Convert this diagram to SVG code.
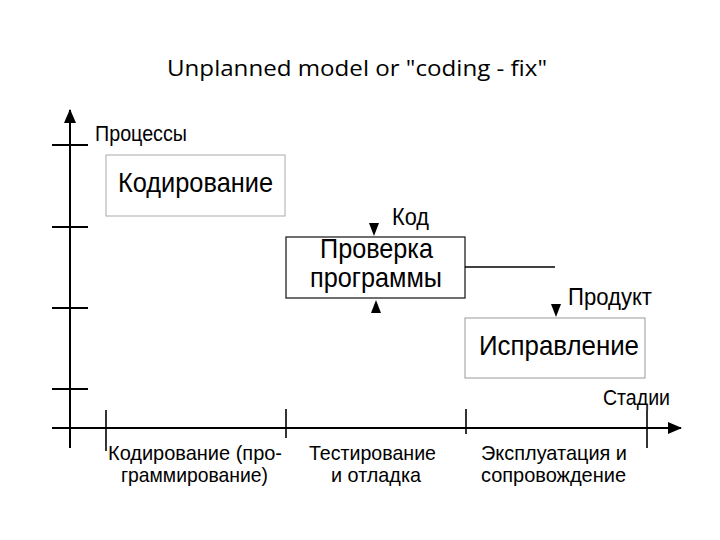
<svg xmlns="http://www.w3.org/2000/svg" width="720" height="540" viewBox="0 0 720 540">
<style>
.t{font-family:"Liberation Sans",Arial,sans-serif;fill:#000}
.ax{stroke:#000;stroke-width:2;fill:none}
.tk{stroke:#000;stroke-width:1.6;fill:none}
.big{font-size:28px}
.mid{font-size:21px}
.sm{font-size:22px}
</style>
<defs>
<marker id="ah" viewBox="0 0 14 12" refX="13" refY="6" markerWidth="14" markerHeight="12" markerUnits="userSpaceOnUse" orient="auto">
<path d="M0,0 L14,6 L0,12 Z" fill="#000"/>
</marker>
</defs>
<rect width="720" height="540" fill="#fff"/>
<text x="357" y="76" text-anchor="middle" font-family="'Open Sans','Noto Sans',sans-serif" font-size="21" textLength="380" lengthAdjust="spacingAndGlyphs">Unplanned model or "coding - fix"</text>
<g id="axes">
<line class="ax" x1="70" y1="448" x2="70" y2="110" marker-end="url(#ah)"/>
<line class="ax" x1="52" y1="428" x2="681" y2="428" marker-end="url(#ah)"/>
<line class="ax" x1="52" y1="145" x2="88" y2="145"/>
<line class="ax" x1="52" y1="227" x2="88" y2="227"/>
<line class="ax" x1="52" y1="308" x2="88" y2="308"/>
<line class="ax" x1="52" y1="389" x2="88" y2="389"/>
<line class="tk" x1="106" y1="410" x2="106" y2="451"/>
<line class="tk" x1="286" y1="409" x2="286" y2="438"/>
<line class="tk" x1="466" y1="409" x2="466" y2="434"/>
<line class="tk" x1="647" y1="410" x2="647" y2="448"/>
<text class="t sm" x="95" y="141" textLength="92" lengthAdjust="spacingAndGlyphs">Процессы</text>
<text class="t sm" x="603" y="405" textLength="67" lengthAdjust="spacingAndGlyphs">Стадии</text>
</g>
<g id="stage-labels">
<text class="t mid" x="108" y="460" textLength="174" lengthAdjust="spacingAndGlyphs">Кодирование (про-</text>
<text class="t mid" x="121" y="482" textLength="147" lengthAdjust="spacingAndGlyphs">граммирование)</text>
<text class="t mid" x="309" y="460" textLength="127" lengthAdjust="spacingAndGlyphs">Тестирование</text>
<text class="t mid" x="331" y="482" textLength="90" lengthAdjust="spacingAndGlyphs">и отладка</text>
<text class="t mid" x="481" y="460" textLength="146" lengthAdjust="spacingAndGlyphs">Эксплуатация и</text>
<text class="t mid" x="481" y="482" textLength="145" lengthAdjust="spacingAndGlyphs">сопровождение</text>
</g>
<g id="node-coding">
<rect x="106" y="155" width="179" height="61" fill="#fff" stroke="#aaa" stroke-width="1"/>
<text class="t big" x="118" y="192" textLength="155" lengthAdjust="spacingAndGlyphs">Кодирование</text>
</g>
<g id="node-check">
<rect x="286" y="237" width="179" height="61" fill="#fff" stroke="#222" stroke-width="1.3"/>
<text class="t big" x="320" y="258" textLength="113" lengthAdjust="spacingAndGlyphs">Проверка</text>
<text class="t big" x="310" y="287" textLength="132" lengthAdjust="spacingAndGlyphs">программы</text>
</g>
<g id="node-fix">
<rect x="465" y="318" width="180" height="60" fill="#fff" stroke="#999" stroke-width="1"/>
<text class="t big" x="479" y="355" textLength="160" lengthAdjust="spacingAndGlyphs">Исправление</text>
</g>
<g id="connectors">
<line x1="465" y1="267" x2="555" y2="267" stroke="#000" stroke-width="1.3"/>
<path d="M369,223 L379,223 L374,236 Z" fill="#000"/>
<path d="M371,313 L381,313 L376,300 Z" fill="#000"/>
<path d="M551,304 L561,304 L556,317 Z" fill="#000"/>
<text class="t" x="392" y="225" font-size="24" textLength="37" lengthAdjust="spacingAndGlyphs">Код</text>
<text class="t" x="568" y="305" font-size="24" textLength="84" lengthAdjust="spacingAndGlyphs">Продукт</text>
</g>
</svg>
